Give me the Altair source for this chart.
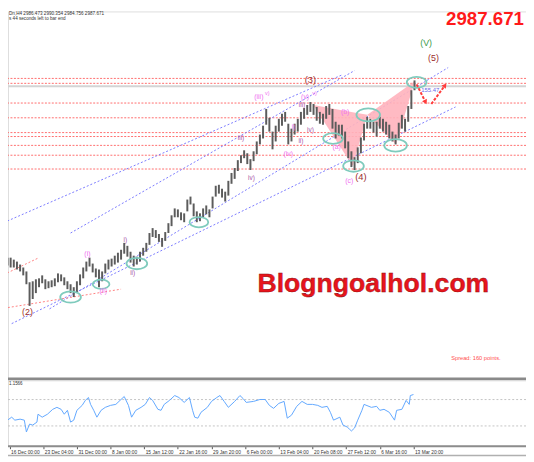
import altair as alt
import pandas as pd

# ---------------- values ----------------
# H4 candles, one sample every 3 bars (high / low of the sample)
price_high = [2577.5, 2567.5, 2552.5, 2552.5, 2547.5, 2542.5, 2535, 2527.5, 2517.5, 2490,
              2492.5, 2497.5, 2500, 2507.5, 2497.5, 2492.5, 2495, 2500, 2512.5, 2510,
              2502.5, 2492.5, 2485, 2477.5, 2492.5, 2510, 2527.5, 2542.5, 2552.5, 2537.5,
              2525, 2522.5, 2517.5, 2537.5, 2547.5, 2550, 2557.5, 2565, 2572.5, 2590,
              2582.5, 2567.5, 2557.5, 2555, 2567.5, 2577.5, 2590, 2615, 2627.5, 2622.5,
              2612.5, 2602.5, 2617.5, 2640, 2660, 2677.5, 2675, 2667.5, 2665, 2700,
              2707.5, 2690, 2670, 2665, 2677.5, 2685, 2675, 2707.5, 2735, 2737.5,
              2727.5, 2720, 2747.5, 2767.5, 2780, 2800, 2812.5, 2825, 2817.5, 2802.5,
              2822.5, 2847.5, 2865, 2887.5, 2930, 2907.5, 2872.5, 2887.5, 2905, 2917.5,
              2922.5, 2892.5, 2880, 2892.5, 2905, 2922.5, 2932.5, 2940, 2947.5, 2942.5,
              2935, 2922.5, 2917.5, 2937.5, 2942.5, 2930, 2897.5, 2890, 2890, 2872.5,
              2847.5, 2822.5, 2807.5, 2832.5, 2857.5, 2892.5, 2910, 2905, 2897.5, 2897.5,
              2910, 2905, 2897.5, 2890, 2872.5, 2865, 2895, 2915, 2905, 2937.5,
              2977.5, 3002.5]
price_low = [2547.5, 2540, 2532.5, 2527.5, 2527.5, 2522.5, 2517.5, 2507.5, 2485, 2430,
             2447.5, 2462.5, 2477.5, 2487.5, 2472.5, 2475, 2477.5, 2480, 2490, 2492.5,
             2482.5, 2472.5, 2462.5, 2452.5, 2465, 2482.5, 2500, 2517.5, 2530, 2515,
             2502.5, 2477.5, 2492.5, 2512.5, 2522.5, 2530, 2535, 2540, 2547.5, 2562.5,
             2555, 2540, 2530, 2535, 2542.5, 2557.5, 2567.5, 2585, 2605, 2602.5,
             2592.5, 2580, 2595, 2615, 2632.5, 2655, 2655, 2647.5, 2642.5, 2670,
             2687.5, 2657.5, 2642.5, 2645, 2655, 2662.5, 2655, 2677.5, 2707.5, 2715,
             2705, 2695, 2710, 2740, 2752.5, 2772.5, 2792.5, 2805, 2790, 2775,
             2797.5, 2815, 2840, 2855, 2890, 2872.5, 2827.5, 2847.5, 2872.5, 2887.5,
             2897.5, 2840, 2847.5, 2865, 2872.5, 2890, 2905, 2915, 2922.5, 2915,
             2900, 2892.5, 2890, 2905, 2915, 2880, 2855, 2862.5, 2855, 2830,
             2805, 2782.5, 2775, 2792.5, 2817.5, 2850, 2880, 2880, 2870, 2860,
             2880, 2872.5, 2865, 2855, 2847.5, 2840, 2855, 2880, 2872.5, 2897.5,
             2930, 2977.5]
candle_bar = list(range(1, 1 + 3 * len(price_high), 3))

# oscillator in the lower window
osc_bar = [0, 3, 7, 11, 14, 19, 23, 25, 28, 31, 35, 36, 40, 45, 50, 54, 58, 61, 64, 67,
           70, 73, 78, 81, 84, 86, 89, 92, 96, 100, 105, 110, 114, 118, 122, 125, 129, 134,
           138, 142, 145, 150, 153, 156, 161, 166, 170, 175, 180, 183, 185, 188, 191, 197,
           201, 206, 209, 213, 217, 223, 228, 231, 234, 241, 247, 252, 256, 260, 265, 270,
           273, 277, 282, 287, 292, 297, 302, 306, 311, 314, 317, 323, 326, 330, 332, 334,
           337, 340, 344, 346, 353, 358, 361, 365, 370, 375, 377, 382, 386, 389, 390, 393]
osc_val = [53.7, 43.3, 38.8, 43.3, 38.8, 40.3, 38.8, 20.9, 32.8, 31.3, 35.8, 47.8, 43.3,
           47.8, 55.2, 58.2, 55.2, 47.8, 53.7, 35.8, 38.8, 53.7, 61.2, 68.7, 73.1, 62.7,
           53.7, 43.3, 53.7, 58.2, 61.2, 62.7, 68.7, 74.6, 61.2, 43.3, 53.7, 58.2, 62.7,
           73.1, 68.7, 55.2, 53.7, 62.7, 68.7, 76.1, 73.1, 65.7, 73.1, 53.7, 43.3, 41.8,
           50.7, 58.2, 67.2, 73.1, 76.1, 67.2, 58.2, 67.2, 76.1, 71.6, 65.7, 67.2, 70.1,
           70.1, 61.2, 56.7, 64.2, 67.2, 41.8, 46.3, 59.7, 67.2, 62.7, 62.7, 61.2, 58.2,
           59.7, 50.7, 38.8, 43.3, 31.3, 28.4, 25.4, 22.4, 26.9, 38.8, 53.7, 62.7, 58.2,
           59.7, 53.7, 55.2, 50.7, 38.8, 53.7, 55.2, 68.7, 62.7, 76.1, 77.6]
osc_levels = [70, 30]

# horizontal (red dotted) levels and the bid line
levels = [3007.5, 2995, 2945, 2907.5, 2870, 2860, 2837.5, 2812.5, 2777.5]
bid = 2987.671

# channel lines (blue dotted): start bar, start price, end bar, end price
chan_b0 = [0, 67, 47, 11]
chan_p0 = [2637.5, 2615, 2422.5, 2385]
chan_b1 = [326, 337, 426, 433]
chan_p1 = [3017.5, 3027.5, 3035, 2935]
# short red trend lines near wave (2)
trend_b0 = [0, 0]
trend_p0 = [2505, 2422.5]
trend_b1 = [37, 115]
trend_p1 = [2552.5, 2472.5]

# harmonic pattern (two pink triangles): x, upper, lower
tri_id = ["t1", "t1", "t1", "t2", "t2", "t2"]
tri_bar = [297.7, 335.2, 349.2, 349.2, 376.4, 394.2]
tri_top = [2940, 2921.8, 2915, 2915, 2966.4, 3000]
tri_bot = [2940, 2785, 2915, 2915, 2840, 3000]

# teal ellipses: centre bar, centre price, width px
ell_bar = [67, 96, 130, 189, 316.5, 336, 350, 376, 396]
ell_price = [2452.5, 2485, 2537.5, 2642.5, 2855, 2785, 2915, 2837.5, 2997.5]
ell_w = [21, 17, 21, 19, 20, 21, 24, 23, 20]

# projection arrows
arr_b0 = [396, 410]
arr_p0 = [2992.5, 2942.5]
arr_b1 = [404.5, 423]
arr_p1 = [2947.5, 2990]
arr_angle = [153, 36]

# wave labels
wave_text = ["(2)", "(i)", "(ii)", "i)", "ii)", "iii)", "iv)", "(iii)", "v)", "(iv)", "i)",
             "ii)", "iii)", "iv)", "(v)", "v)", "(3)", "(a)", "(b)", "(c)", "(4)", "(5)", "(V)"]
wave_bar = [26, 83, 98, 119, 126, 229, 239, 246, 254, 274, 279, 286, 287, 295, 290, 299,
            295, 320, 328, 332, 343, 412, 405]
wave_price = [2415, 2562.5, 2467.5, 2597.5, 2512.5, 2855, 2755, 2960, 2970, 2815, 2885,
              2847.5, 2940, 2877.5, 2960, 2970, 3002.5, 2832.5, 2922.5, 2747.5, 2757.5,
              3060, 3097.5]
PK, PU, DR, GR = "#f070f0", "#a855a8", "#9b2c2c", "#3d9a4a"
wave_color = [DR, PK, PK, PU, PU, PU, PU, PK, PK, PK, PK, PU, PU, PU, PK, PK, DR, PK, PK,
              PK, DR, DR, GR]
wave_size = [9, 7, 7, 6.5, 6.5, 6.5, 6.5, 7, 5.5, 7, 6.5, 6.5, 6.5, 6.5, 7, 5.5, 9.5, 7, 7,
             7, 9.5, 9, 9]

tick_bar = [9, 41, 73, 105, 137, 169, 201, 233, 265, 297, 329, 361, 393]
tick_text = ["16 Dec 00:00", "23 Dec 04:00", "31 Dec 00:00", "8 Jan 00:00", "15 Jan 12:00",
             "22 Jan 16:00", "29 Jan 20:00", "6 Feb 00:00", "13 Feb 04:00", "20 Feb 08:00",
             "27 Feb 12:00", "6 Mar 16:00", "13 Mar 20:00"]

FONT = "Liberation Sans"

# ---------------- scales ----------------
xscale = alt.Scale(domain=[0, 500], range=[-8, 526], nice=False, zero=False)
pscale = alt.Scale(domain=[2250, 3190], range=[371, -5], nice=False, zero=False)
oscale = alt.Scale(domain=[0, 100], range=[441, 374], nice=False, zero=False)

label_expr = "[" + ",".join("'%s'" % t for t in tick_text) + "][indexof([" + \
    ",".join(str(b) for b in tick_bar) + "], datum.value)]"
xaxis = alt.Axis(values=tick_bar, labelExpr=label_expr, title=None, grid=False,
                 domainColor="#8c8c8c", domainWidth=2, tickColor="#555555", tickSize=3,
                 tickWidth=1, labelFont=FONT, labelFontSize=4.9, labelColor="#333333",
                 labelAlign="left", labelBaseline="top", labelPadding=1, labelOffset=1,
                 labelFlush=False, labelOverlap=False, labelBound=False)


def X(f="bar"):
    return alt.X(f + ":Q", scale=xscale, axis=xaxis)


def P(f="price"):
    return alt.Y(f + ":Q", scale=pscale, axis=None)


# ---------------- layers ----------------
lev_df = pd.DataFrame({"price": levels})
lev = alt.Chart(lev_df).mark_rule(color="#ff6e6e", strokeWidth=1, strokeDash=[2, 1.5]).encode(y=P())

bid_df = pd.DataFrame({"price": [bid]})
bidl = alt.Chart(bid_df).mark_rule(color="#d4d4d4", strokeWidth=2).encode(y=P())

ch_df = pd.DataFrame({"bar": chan_b0, "price": chan_p0, "bar2": chan_b1, "price2": chan_p1})
chan = alt.Chart(ch_df).mark_rule(color="#7b7bff", strokeWidth=1, strokeDash=[2, 2]).encode(
    x=X(), y=P(), x2="bar2:Q", y2="price2:Q")

tr_df = pd.DataFrame({"bar": trend_b0, "price": trend_p0, "bar2": trend_b1, "price2": trend_p1})
trend = alt.Chart(tr_df).mark_rule(color="#ff8080", strokeWidth=1, strokeDash=[2, 2]).encode(
    x=X(), y=P(), x2="bar2:Q", y2="price2:Q")

tri_df = pd.DataFrame({"id": tri_id, "bar": tri_bar, "price": tri_top, "price2": tri_bot})
tri = alt.Chart(tri_df).mark_area(color="#ffb3bd", opacity=0.9).encode(
    x=X(), y=P(), y2="price2:Q", detail="id:N")

c_df = pd.DataFrame({"bar": candle_bar, "price": price_high, "price2": price_low})
candles = alt.Chart(c_df).mark_rule(color="#5c5c5c", strokeWidth=2.0).encode(
    x=X(), y=P(), y2="price2:Q")

ELL = "M -1 0 A 1 0.55 0 1 0 1 0 A 1 0.55 0 1 0 -1 0 Z"
e_df = pd.DataFrame({"bar": ell_bar, "price": ell_price, "s": [w * w for w in ell_w]})
ell = alt.Chart(e_df).mark_point(shape=ELL, filled=False, color="#7fcbbd", strokeWidth=1.8,
                                 opacity=1).encode(
    x=X(), y=P(), size=alt.Size("s:Q", scale=None, legend=None))

a_df = pd.DataFrame({"bar": arr_b0, "price": arr_p0, "bar2": arr_b1, "price2": arr_p1})
arrows = alt.Chart(a_df).mark_rule(color="#ff3c3c", strokeWidth=2, strokeDash=[3, 1.5]).encode(
    x=X(), y=P(), x2="bar2:Q", y2="price2:Q")
ah_df = pd.DataFrame({"bar": arr_b1, "price": arr_p1, "ang": arr_angle})
heads = alt.Chart(ah_df).mark_point(shape="triangle-up", filled=True, color="#ff3c3c",
                                    size=30, opacity=1).encode(
    x=X(), y=P(), angle=alt.Angle("ang:Q", scale=None))

dist_df = pd.DataFrame({"bar": [409], "price": [2977.5], "t": ["155.47"]})
dist = alt.Chart(dist_df).mark_text(font=FONT, fontSize=6, color="#6a6ae8", align="center",
                                    baseline="middle").encode(x=X(), y=P(), text="t:N")

w_df = pd.DataFrame({"bar": wave_bar, "price": wave_price, "t": wave_text, "c": wave_color,
                     "s": wave_size})
waves = alt.Chart(w_df).mark_text(font=FONT, align="center", baseline="middle").encode(
    x=X(), y=P(), text="t:N", color=alt.Color("c:N", scale=None, legend=None),
    size=alt.Size("s:Q", scale=None, legend=None))

# oscillator window
o_df = pd.DataFrame({"bar": osc_bar, "v": osc_val})
osc = alt.Chart(o_df).mark_line(color="#62a8ff", strokeWidth=1).encode(
    x=X(), y=alt.Y("v:Q", scale=oscale, axis=None))
ol_df = pd.DataFrame({"v": osc_levels})
oscl = alt.Chart(ol_df).mark_rule(color="#c4c4c4", strokeWidth=1, strokeDash=[2, 2]).encode(
    y=alt.Y("v:Q", scale=oscale, axis=None))

# window chrome
sep = alt.Chart(pd.DataFrame({"k": [0]})).mark_rule(color="#8a8a8a", strokeWidth=2.5).encode(
    y=alt.value(373))
sep2 = alt.Chart(pd.DataFrame({"k": [0]})).mark_rule(color="#d0d0d0", strokeWidth=1).encode(
    y=alt.value(375))
bottom = alt.Chart(pd.DataFrame({"k": [0]})).mark_rule(color="#b0b0b0", strokeWidth=1.5).encode(
    y=alt.value(451))


def chrome_text(txt, x, y, size, color, align="left", weight="normal", baseline="middle"):
    return alt.Chart(pd.DataFrame({"t": [txt]})).mark_text(
        font=FONT, fontSize=size, color=color, align=align, fontWeight=weight,
        baseline=baseline).encode(text="t:N", x=alt.value(x), y=alt.value(y))


hdr1 = chrome_text("Dn,H4  2986.473 2990.354 2984.756 2987.671", 1, 2.5, 4.7, "#333333")
hdr2 = chrome_text("s 44 seconds left to bar end", 1, 7.5, 4.7, "#333333")
big = chrome_text("2987.671", 524, 14, 19, "#ff1a1a", align="right", weight="bold",
                  baseline="alphabetic")
spread = chrome_text("Spread: 160 points.", 450, 352, 5.8, "#ff5050")
oscname = chrome_text("1.1566", 1, 378.5, 4.5, "#333333")

wm = alt.Chart(pd.DataFrame({"t": ["Blogngoalhol.com"]})).mark_text(
    font=FONT, fontSize=27, fontWeight="bold", color="#e8141c", stroke="#8a1010",
    strokeWidth=0.4, align="center", baseline="middle").encode(
    text="t:N", x=alt.value(371), y=alt.value(277))

chart = alt.layer(
    lev, bidl, chan, trend, tri, candles, ell, arrows, heads, dist, waves,
    oscl, osc, sep, sep2, bottom, hdr1, hdr2, big, spread, oscname, wm
).resolve_scale(y="independent").properties(
    width=526, height=441, autosize="none",
    padding={"left": 0, "top": 0, "right": 0, "bottom": 13}
).configure_view(strokeWidth=0).configure(background="#ffffff")

chart.save("out.html", embed_options={"renderer": "svg", "actions": False})
